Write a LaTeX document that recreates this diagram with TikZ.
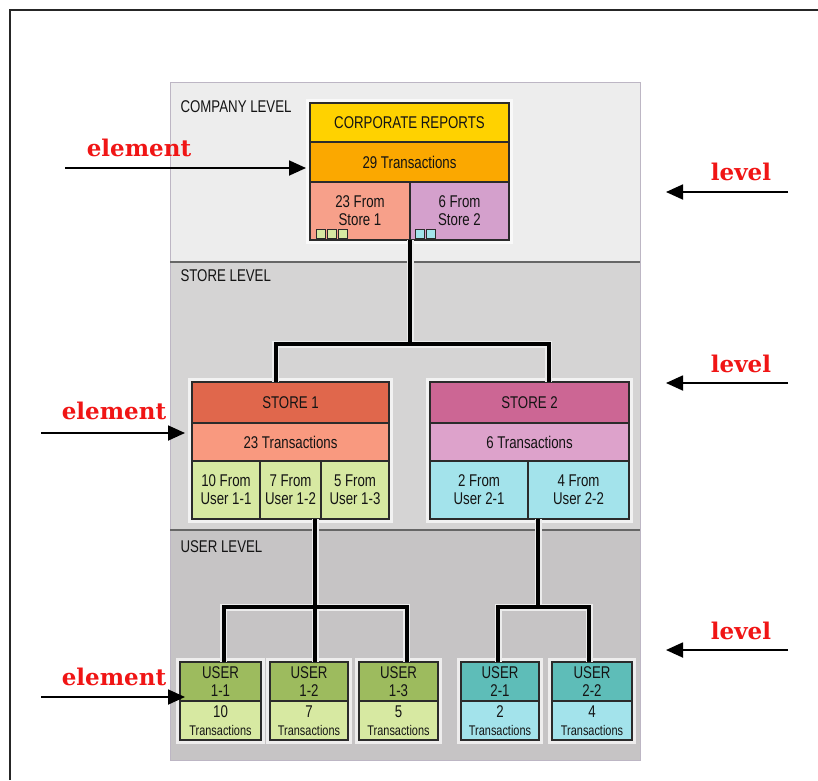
\documentclass[tikz,border=0pt]{standalone}
\usepackage{fontspec}
\newfontfamily\boxfont[FakeStretch=0.78]{Liberation Sans}
\newfontfamily\notefont{DejaVu Serif}
\usepackage{xcolor}
\usetikzlibrary{arrows.meta}

\definecolor{panelA}{HTML}{EDEDED}
\definecolor{panelB}{HTML}{D5D4D4}
\definecolor{panelC}{HTML}{C6C4C5}
\definecolor{panelline}{HTML}{BDB6C4}
\definecolor{boxline}{HTML}{2B2B2B}
\definecolor{ink}{HTML}{141414}
\definecolor{notered}{HTML}{F01515}
\definecolor{gold}{HTML}{FFD200}
\definecolor{amber}{HTML}{FBA800}
\definecolor{salmon}{HTML}{F7A08A}
\definecolor{lilac}{HTML}{D4A0CC}
\definecolor{storered}{HTML}{E0674C}
\definecolor{storesalmon}{HTML}{F9997F}
\definecolor{storepink}{HTML}{CC6694}
\definecolor{storemauve}{HTML}{DDA2CB}
\definecolor{usergreen}{HTML}{9DBB5E}
\definecolor{userlime}{HTML}{D7E9A2}
\definecolor{userteal}{HTML}{5EBDB8}
\definecolor{usercyan}{HTML}{A3E3EB}

\tikzset{
  cell/.style={draw=boxline, line width=1.3pt, inner sep=0pt, outer sep=0pt, anchor=north west, align=center,
    text=ink, font=\boxfont\fontsize{17}{18}\selectfont},
  panel/.style={draw=panelline, line width=0.8pt, inner sep=0pt, outer sep=0pt, anchor=north west, minimum width=470pt},
  divider/.style={draw=black!60, line width=1.6pt},
  frame/.style={draw=black!85, line width=2.4pt},
  glow/.style={draw=white, line width=3pt, opacity=0.7},
  wire/.style={line width=4pt, preaction={draw=white!85!gray, line width=7pt}},
  lvltext/.style={anchor=west, text=ink, font=\boxfont\fontsize{17}{18}\selectfont},
  note/.style={text=notered, font=\notefont\bfseries\fontsize{23}{26}\selectfont},
  pointer/.style={line width=1.8pt, -{Triangle[length=17pt,width=15pt]}},
  chip/.style={draw=boxline, line width=0.8pt}
}

\begin{document}
\begin{tikzpicture}[x=1pt, y=-1pt]
    \useasboundingbox (0,0) rectangle (818,780);
    \draw[frame] (10,780) -- (10,10) -- (818,10);

    \node[panel, fill=panelA, minimum height=180pt] at (170,82) (compPanel) {};
    \node[panel, fill=panelB, minimum height=268pt] at (170,262) (storePanel) {};
    \node[panel, fill=panelC, minimum height=230pt] at (170,530) (userPanel) {};
    \draw[divider] (compPanel.south west) -- (compPanel.south east);
    \draw[divider] (storePanel.south west) -- (storePanel.south east);

    \node[lvltext] at (177,107) (compLbl) {COMPANY LEVEL};
    \node[lvltext] at (177,276) (storeLbl) {STORE LEVEL};
    \node[lvltext] at (177,547) (userLbl) {USER LEVEL};

    \node[cell, fill=gold, minimum width=199pt, minimum height=39pt] at (310,103) (corpHead) {CORPORATE REPORTS};
    \node[cell, fill=amber, minimum width=199pt, minimum height=40pt] at (corpHead.south west) (corpTrans) {29 Transactions};
    \node[cell, fill=salmon, minimum width=100pt, minimum height=58pt] at (corpTrans.south west) (corpS1) {23 From\\Store 1};
    \node[cell, fill=lilac, minimum width=99pt, minimum height=58pt] at (corpS1.north east) (corpS2) {6 From\\Store 2};
    \foreach \i in {0,1,2}
      \filldraw[chip, fill=userlime] ([xshift=6pt+\i*11pt, yshift=2pt]corpS1.south west) rectangle ++(9,-9);
    \foreach \i in {0,1}
      \filldraw[chip, fill=usercyan] ([xshift=5pt+\i*11pt, yshift=2pt]corpS2.south west) rectangle ++(9,-9);

    \node[cell, fill=storered, minimum width=197pt, minimum height=41pt] at (192,382) (s1Head) {STORE 1};
    \node[cell, fill=storesalmon, minimum width=197pt, minimum height=38pt] at (s1Head.south west) (s1Trans) {23 Transactions};
    \node[cell, fill=userlime, minimum width=68pt, minimum height=58pt] at (s1Trans.south west) (s1U1) {10 From\\User 1-1};
    \node[cell, fill=userlime, minimum width=61pt, minimum height=58pt] at (s1U1.north east) (s1U2) {7 From\\User 1-2};
    \node[cell, fill=userlime, minimum width=68pt, minimum height=58pt] at (s1U2.north east) (s1U3) {5 From\\User 1-3};

    \node[cell, fill=storepink, minimum width=199pt, minimum height=41pt] at (430,382) (s2Head) {STORE 2};
    \node[cell, fill=storemauve, minimum width=199pt, minimum height=38pt] at (s2Head.south west) (s2Trans) {6 Transactions};
    \node[cell, fill=usercyan, minimum width=98pt, minimum height=58pt] at (s2Trans.south west) (s2U1) {2 From\\User 2-1};
    \node[cell, fill=usercyan, minimum width=101pt, minimum height=58pt] at (s2U1.north east) (s2U2) {4 From\\User 2-2};

    \node[cell, fill=usergreen, minimum width=81pt, minimum height=39pt] at (180,662) (u11Head) {USER\\1-1};
    \node[cell, fill=userlime, minimum width=81pt, minimum height=39pt] at (u11Head.south west) (u11Low) {10\\\fontsize{14}{16}\selectfont Transactions};
    \node[cell, fill=usergreen, minimum width=78pt, minimum height=39pt] at (270,662) (u12Head) {USER\\1-2};
    \node[cell, fill=userlime, minimum width=78pt, minimum height=39pt] at (u12Head.south west) (u12Low) {7\\\fontsize{14}{16}\selectfont Transactions};
    \node[cell, fill=usergreen, minimum width=79pt, minimum height=39pt] at (359,662) (u13Head) {USER\\1-3};
    \node[cell, fill=userlime, minimum width=79pt, minimum height=39pt] at (u13Head.south west) (u13Low) {5\\\fontsize{14}{16}\selectfont Transactions};
    \node[cell, fill=userteal, minimum width=78pt, minimum height=39pt] at (461,662) (u21Head) {USER\\2-1};
    \node[cell, fill=usercyan, minimum width=78pt, minimum height=39pt] at (u21Head.south west) (u21Low) {2\\\fontsize{14}{16}\selectfont Transactions};
    \node[cell, fill=userteal, minimum width=80pt, minimum height=39pt] at (552,662) (u22Head) {USER\\2-2};
    \node[cell, fill=usercyan, minimum width=80pt, minimum height=39pt] at (u22Head.south west) (u22Low) {4\\\fontsize{14}{16}\selectfont Transactions};

    \foreach \a/\b in {corpHead/corpS2, s1Head/s1U3, s2Head/s2U2, u11Head/u11Low, u12Head/u12Low,
                       u13Head/u13Low, u21Head/u21Low, u22Head/u22Low}
      \draw[glow] ([shift={(-2.2,-2.2)}]\a.north west) rectangle ([shift={(2.2,2.2)}]\b.south east);

    \path (corpS1.south east) ++(0,104) coordinate (busA);
    \draw[wire] (corpS1.south east) -- (busA)
                ([xshift=-15pt]s1Head.north) |- (busA) -| ([xshift=19pt]s2Head.north);
    \path ([xshift=-6pt]s1U3.south west) ++(0,88) coordinate (busB);
    \draw[wire] ([xshift=-6pt]s1U3.south west) -- ([xshift=6pt]u12Head.north)
                ([xshift=3pt]u11Head.north) |- (busB) -| ([xshift=8pt]u13Head.north);
    \path ([xshift=10pt]s2U2.south west) ++(0,88) coordinate (busC);
    \draw[wire] ([xshift=10pt]s2U2.south west) -- (busC)
                ([xshift=-2pt]u21Head.north) |- (busC) -| ([xshift=-3pt]u22Head.north);

    \node[note] at (139,148) (elem1) {element};
    \node[note] at (114,411) (elem2) {element};
    \node[note] at (114,677) (elem3) {element};
    \coordinate (elem1Tail) at (65,168);
    \coordinate (elem2Tail) at (41,433);
    \coordinate (elem3Tail) at (41,697);
    \draw[pointer] (elem1Tail) -- ([xshift=-4pt, yshift=-6pt]corpTrans.west);
    \draw[pointer] (elem2Tail) -- ([xshift=-7pt, yshift=9pt]s1Trans.west);
    \draw[pointer] (elem3Tail) -- ([xshift=5pt, yshift=4pt]u11Head.south west);

    \node[note] at (741,172) (lvl1) {level};
    \node[note] at (741,364) (lvl2) {level};
    \node[note] at (741,631) (lvl3) {level};
    \coordinate (lvl1Tail) at (788,192);
    \coordinate (lvl2Tail) at (788,383);
    \coordinate (lvl3Tail) at (788,650);
    \draw[pointer] (lvl1Tail) -- ([xshift=26pt, yshift=-20pt]compPanel.east);
    \draw[pointer] (lvl2Tail) -- ([xshift=26pt, yshift=13pt]storePanel.east);
    \draw[pointer] (lvl3Tail) -- ([xshift=26pt, yshift=-5pt]userPanel.east);
\end{tikzpicture}
\end{document}
